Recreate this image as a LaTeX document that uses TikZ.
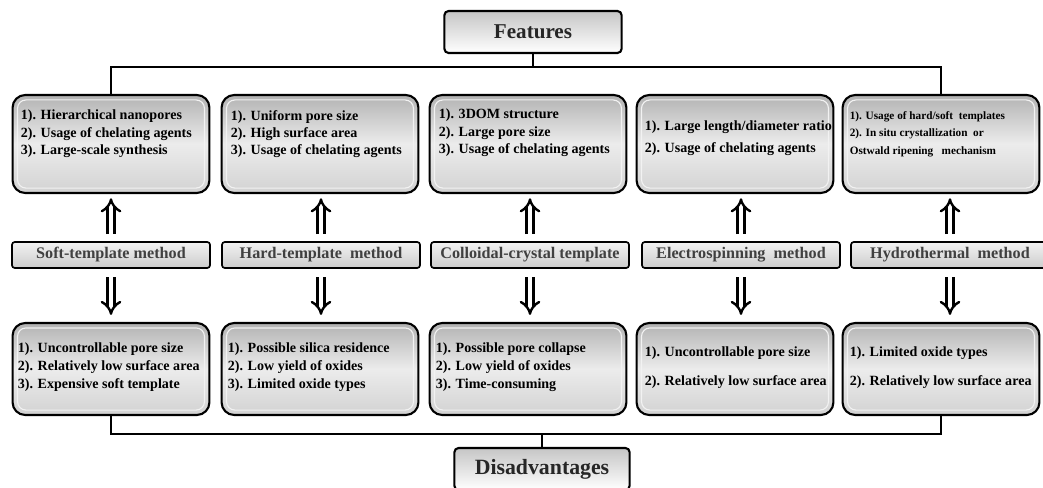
\documentclass[tikz,border=0pt]{standalone}
\usepackage{fontspec}
\setmainfont{Liberation Serif}
\usetikzlibrary{positioning, arrows.meta}
\tikzset{
    headbox/.style={draw=black, line width=1.5pt, rounded corners=3pt, top color=gray!45, bottom color=white, minimum width=4.43cm, minimum height=1.05cm, font=\fontsize{15}{18}\selectfont\bfseries, text=black!85},
    infobox/.style={draw=black, line width=1.5pt, rounded corners=9pt, top color=gray!60, bottom color=gray!35, middle color=gray!15, minimum width=4.92cm, inner sep=0pt},
    featbox/.style={infobox, minimum height=2.45cm},
    disbox/.style={infobox, minimum height=2.3cm},
    innerframe/.style={draw=gray!10, line width=0.8pt, rounded corners=6pt},
    methodbar/.style={draw=black, line width=1.2pt, rounded corners=2pt, top color=gray!10, bottom color=gray!40, minimum width=4.95cm, minimum height=0.65cm, font=\fontsize{11.5}{13}\selectfont\bfseries, text=black!75},
    itemtext/.style={anchor=north west, align=left, inner sep=0pt, font=\fontsize{10}{12.2}\selectfont\bfseries},
    hollowarrow/.style={double=white, double distance=3.2pt, line width=1.7pt, -{Implies}},
    bracket/.style={draw=black, line width=1.3pt}
}
\begin{document}
\begin{tikzpicture}[x=0.025cm, y=-0.025cm]
\useasboundingbox (0,0) rectangle (1043,487);
% headings
\node[headbox] (feat) at (533,32) {Features};
\node[headbox, minimum width=4.38cm, font=\fontsize{15.5}{18}\selectfont\bfseries] (disadv) at (542,469) {Disadvantages};
% boxes and methods
\foreach \i/\bx/\mx/\lbl in {1/111/111/Soft-template method,
                             2/320/321/Hard-template\ \ method,
                             3/528/530/Colloidal-crystal template,
                             4/735/741/Electrospinning\ \ method,
                             5/941/950/Hydrothermal\ \ method}{
    \node[featbox] (f\i) at (\bx,144) {};
    \node[disbox] (d\i) at (\bx,369) {};
    \node[methodbar] (m\i) at (\mx,255) {\lbl};
    \draw[innerframe] ([shift={(6,6)}]f\i.north west) rectangle ([shift={(-6,-6)}]f\i.south east);
    \draw[innerframe] ([shift={(6,6)}]d\i.north west) rectangle ([shift={(-6,-6)}]d\i.south east);
    \draw[hollowarrow, shorten <=5pt, shorten >=3pt] (m\i.north) -- (m\i.north |- f\i.south);
    \draw[hollowarrow, shorten <=6pt, shorten >=5pt] (m\i.south) -- (m\i.south |- d\i.north);
}
% features
\node[itemtext] (f1t) at ([shift={(9,16)}]f1.north west) {1). Hierarchical nanopores\\2). Usage of chelating agents\\3). Large-scale synthesis};
\node[itemtext] (f2t) at ([shift={(10,16)}]f2.north west) {1). Uniform pore size\\2). High surface area\\3). Usage of chelating agents};
\node[itemtext] (f3t) at ([shift={(10,15)}]f3.north west) {1). 3DOM structure\\2). Large pore size\\3). Usage of chelating agents};
\node[itemtext, font=\fontsize{10}{15}\selectfont\bfseries] (f4t) at ([shift={(9,27)}]f4.north west) {1). Large length/diameter ratio\\2). Usage of chelating agents};
\node[itemtext, font=\fontsize{8}{12.5}\selectfont\bfseries] (f5t) at ([shift={(8,17)}]f5.north west) {1). Usage of hard/soft\ \ templates\\2). In situ crystallization\ \ or\\Ostwald ripening\ \ \ mechanism};
% disadvantages
\node[itemtext, font=\fontsize{10}{12.8}\selectfont\bfseries] (d1t) at ([shift={(6,21)}]d1.north west) {1). Uncontrollable pore size\\2). Relatively low surface area\\3). Expensive soft template};
\node[itemtext, font=\fontsize{10}{12.8}\selectfont\bfseries] (d2t) at ([shift={(7,21)}]d2.north west) {1). Possible silica residence\\2). Low yield of oxides\\3). Limited\ oxide types};
\node[itemtext, font=\fontsize{10}{12.8}\selectfont\bfseries] (d3t) at ([shift={(7,21)}]d3.north west) {1). Possible pore collapse\\2). Low yield of oxides\\3). Time-consuming};
\node[itemtext] (d4t) at ([shift={(9,25)}]d4.north west) {1). Uncontrollable pore size\\[8pt]2). Relatively low surface area};
\node[itemtext] (d5t) at ([shift={(8,25)}]d5.north west) {1). Limited\ oxide types\\[8pt]2). Relatively low surface area};
% brackets
\draw[bracket] (f1.north) -- ++(0,-27) coordinate (tl) -| (f5.north);
\draw[bracket] (feat.south) -- (feat.south |- tl);
\draw[bracket] (d1.south) -- ++(0,18) coordinate (bl) -| (d5.south);
\draw[bracket] (disadv.north) -- (disadv.north |- bl);
\end{tikzpicture}
\end{document}
